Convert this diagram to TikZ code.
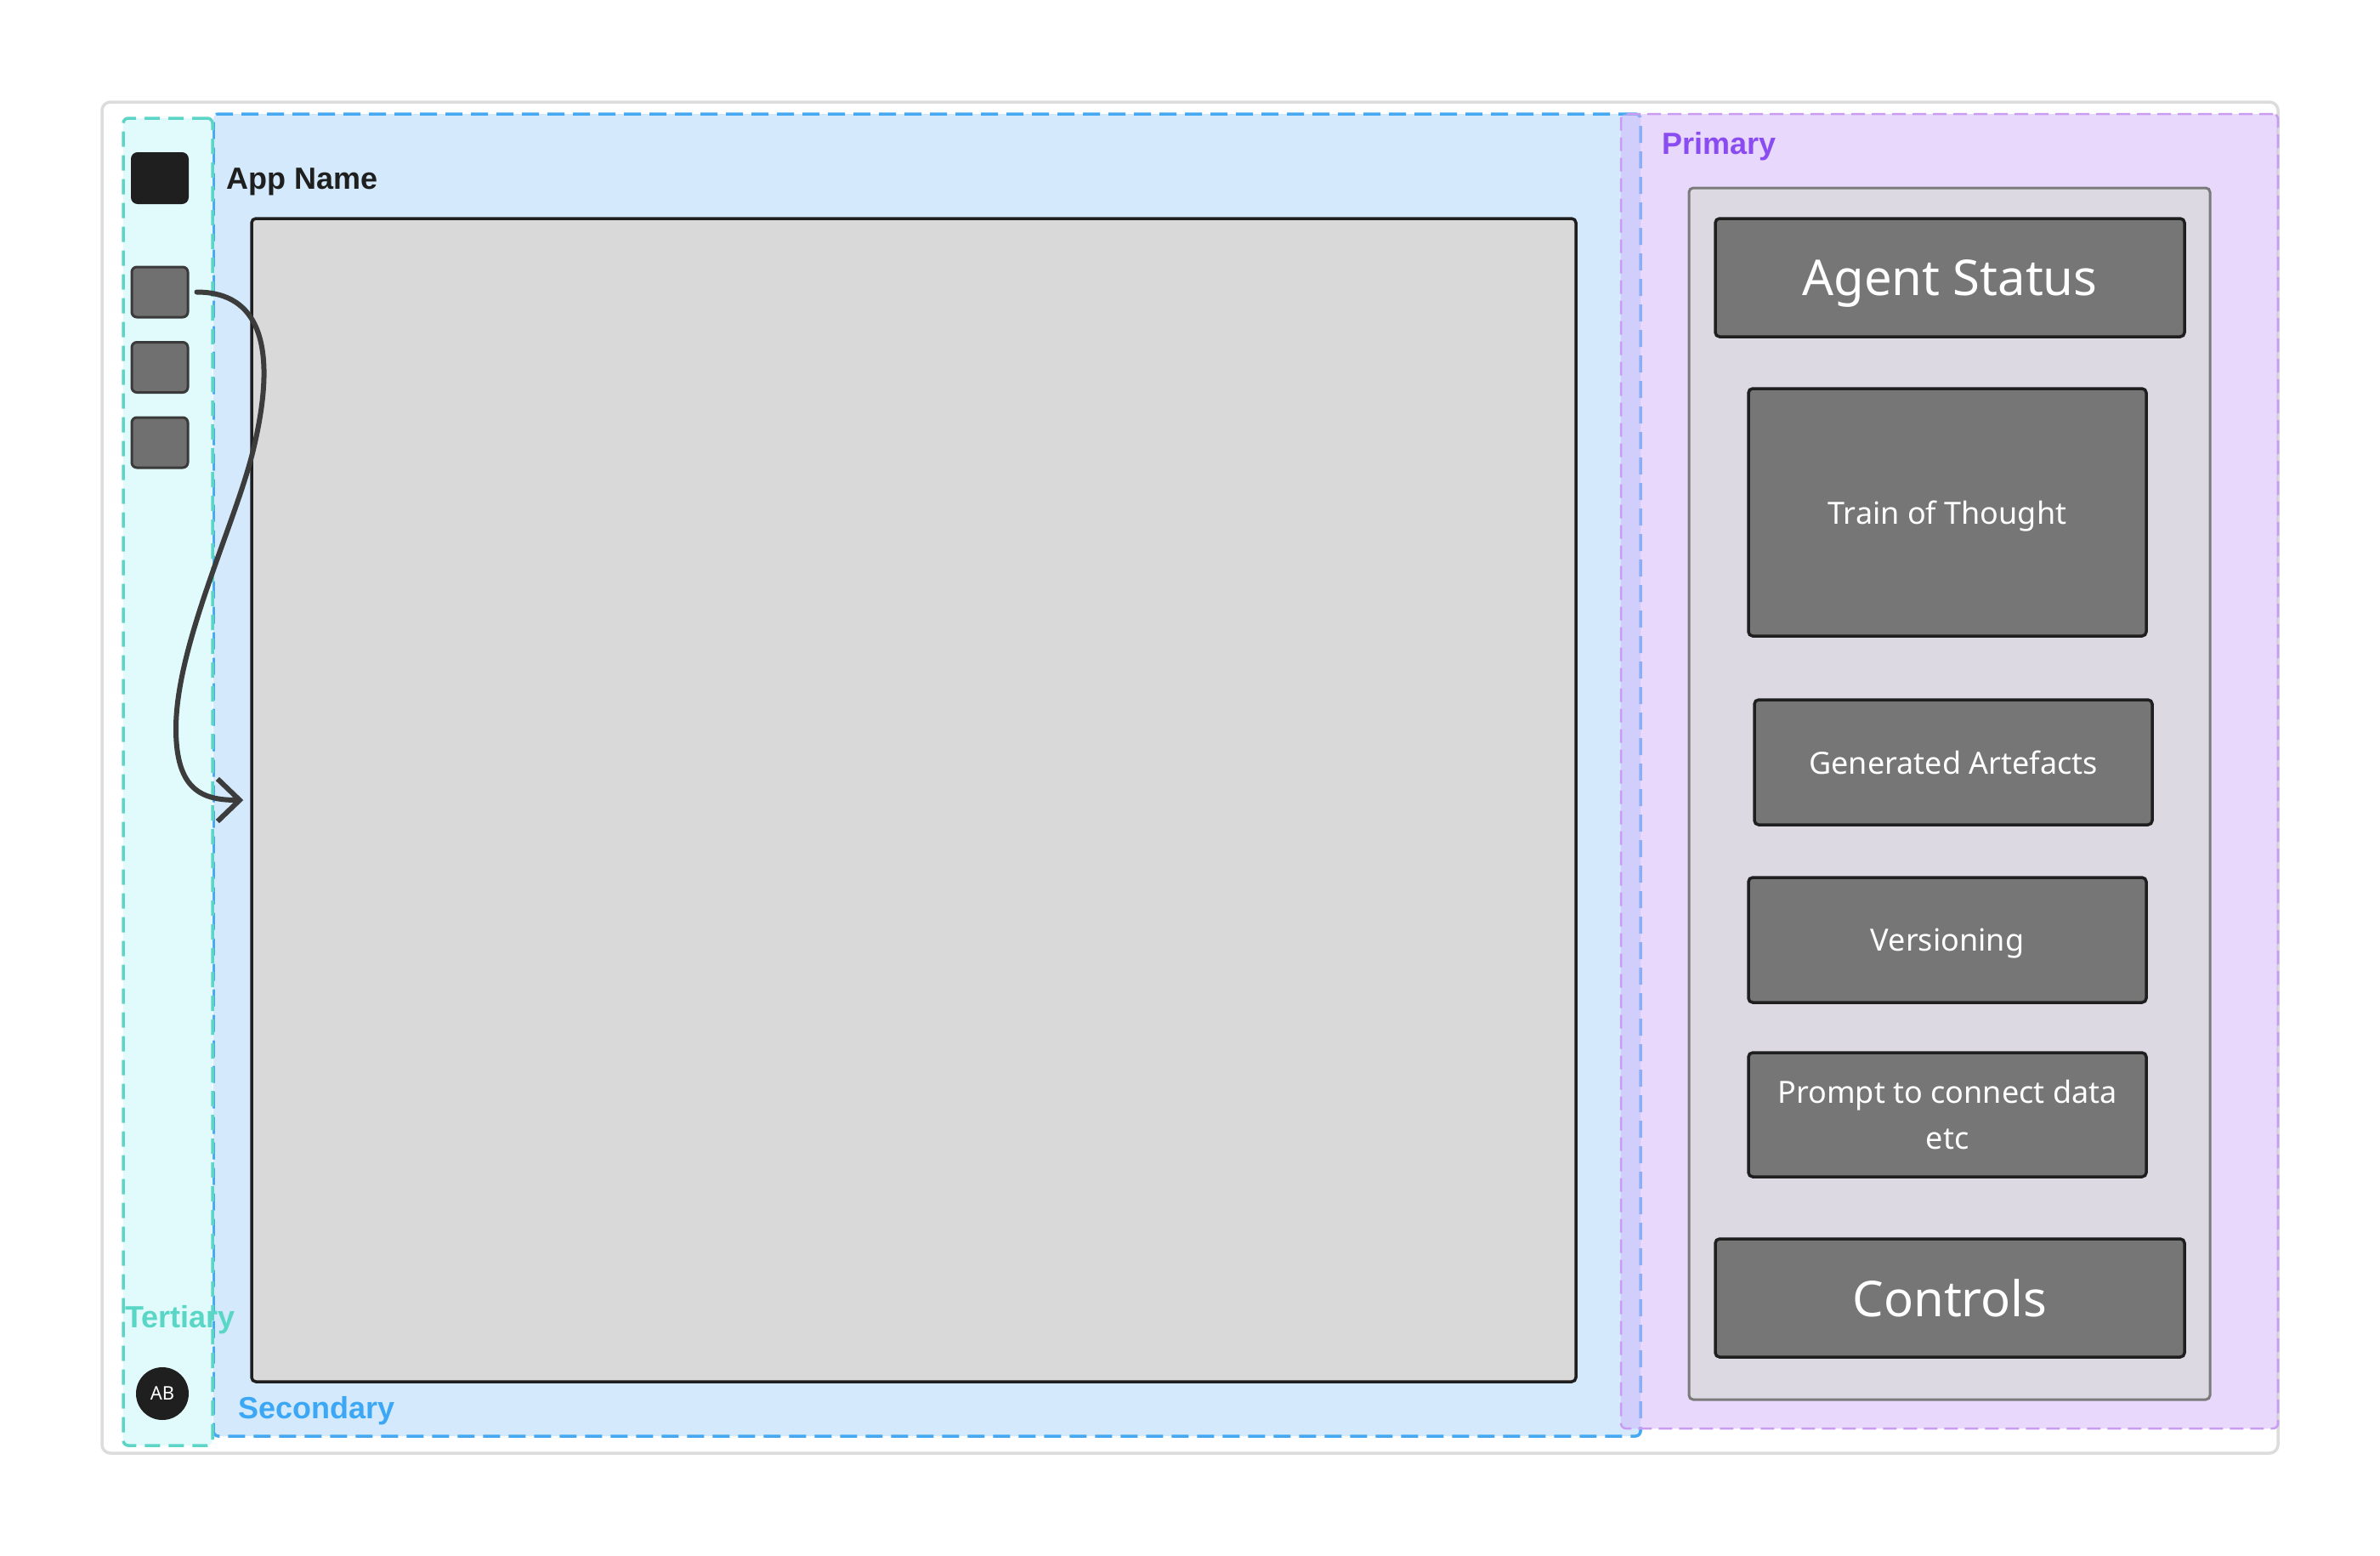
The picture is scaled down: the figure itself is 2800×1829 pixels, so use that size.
\documentclass[tikz,border=0pt]{standalone}
\usepackage{fontspec}
\setmainfont{Noto Sans}
\newfontfamily\labelfont{Liberation Sans}
\usetikzlibrary{arrows.meta}
\definecolor{frameC}{HTML}{DCDCDC}
\definecolor{tertFill}{HTML}{E1FBFC}
\definecolor{tertLine}{HTML}{5DD5C6}
\definecolor{secFill}{HTML}{D4EAFC}
\definecolor{secLine}{HTML}{45A8F0}
\definecolor{primFill}{HTML}{D2B4FB}
\definecolor{primLine}{HTML}{C99CF2}
\definecolor{primText}{HTML}{8A4CF0}
\definecolor{secText}{HTML}{3CA8F5}
\definecolor{tertText}{HTML}{5AD6C6}
\definecolor{darkC}{HTML}{1F1F1F}
\definecolor{sqFill}{HTML}{707070}
\definecolor{sqLine}{HTML}{3A3A3A}
\definecolor{mainFill}{HTML}{D9D9D9}
\definecolor{innerFill}{HTML}{DCD9E3}
\definecolor{innerLine}{HTML}{7A7A7A}
\definecolor{boxFill}{HTML}{767676}
\definecolor{arrowC}{HTML}{3C3C3C}
\tikzset{
  region/.style={draw, inner sep=0pt, outer sep=0pt, rounded corners=6pt},
  sidesq/.style={draw=sqLine, fill=sqFill, line width=3pt, rounded corners=6pt, inner sep=0pt, minimum width=66pt, minimum height=59pt},
  panelbox/.style={draw=darkC, fill=boxFill, line width=3.5pt, rounded corners=5pt, inner sep=0pt, text=white, align=center},
  oneline/.style={text depth=0pt},
  zonelabel/.style={anchor=base west, inner sep=0pt, font=\fontsize{36}{40}\selectfont\labelfont\bfseries},
  flow/.style={draw=arrowC, line width=6pt, line cap=round, -{Straight Barb[length=26pt,width=50pt,line width=6pt]}},
}
\begin{document}
\begin{tikzpicture}[x=1pt,y=-1pt]
\useasboundingbox[fill=white] (0,0) rectangle (2800,1829);
% outer frame
\node[region, draw=frameC, fill=white, line width=3.5pt, rounded corners=10pt, minimum width=2560pt, minimum height=1589pt] (outer) at (1400,914.5) {};
% secondary
\node[region, draw=secLine, fill=secFill, line width=3.5pt, dash pattern=on 20pt off 10pt, minimum width=1679pt, minimum height=1555pt] (sec) at (1090.5,911.5) {};
% tertiary
\node[region, draw=tertLine, fill=tertFill, line width=3.5pt, dash pattern=on 18pt off 10pt, minimum width=105pt, minimum height=1561pt] (tert) at (197.5,919.5) {};
% primary
\node[region, draw=primLine, fill=primFill, fill opacity=0.5, line width=2.5pt, dash pattern=on 16pt off 8pt, minimum width=773pt, minimum height=1546pt] (prim) at (2293.5,907) {};
% left sidebar items
\node[draw=darkC, fill=darkC, line width=2pt, rounded corners=7pt, inner sep=0pt, minimum width=66pt, minimum height=59pt] (logo) at (188,209.5) {};
\node[sidesq] (sq1) at (188,343.5) {};
\node[sidesq] (sq2) at (188,432) {};
\node[sidesq] (sq3) at (188,520.5) {};
\node[circle, fill=darkC, inner sep=0pt, minimum size=62pt, text=white, font=\fontsize{22}{24}\selectfont] (avatar) at (191,1639) {AB};
% main canvas
\node[draw=darkC, fill=mainFill, line width=3.5pt, rounded corners=5pt, inner sep=0pt, minimum width=1558pt, minimum height=1368pt] (main) at (1075,941) {};
% right panel
\node[draw=innerLine, fill=innerFill, line width=3pt, rounded corners=5pt, inner sep=0pt, minimum width=613pt, minimum height=1425pt] (inner) at (2293.5,933.5) {};
\node[panelbox, oneline, minimum width=552pt, minimum height=139pt, font=\fontsize{58}{64}\selectfont] (agent) at (2294,326.5) {Agent Status};
\node[panelbox, oneline, minimum width=468pt, minimum height=291pt, font=\fontsize{36}{44}\selectfont] (tot) at (2291,602.5) {Train of Thought};
\node[panelbox, oneline, minimum width=468pt, minimum height=147pt, font=\fontsize{36}{44}\selectfont] (gen) at (2298,896.5) {Generated Artefacts};
\node[panelbox, oneline, minimum width=468pt, minimum height=147pt, font=\fontsize{36}{44}\selectfont] (ver) at (2291,1105.5) {Versioning};
\node[panelbox, minimum width=468pt, minimum height=146pt, font=\fontsize{36}{54}\selectfont] (prompt) at (2291,1311) {Prompt to connect data\\etc};
\node[panelbox, oneline, minimum width=552pt, minimum height=139pt, font=\fontsize{58}{64}\selectfont] (controls) at (2294,1526.5) {Controls};
% labels
\node[zonelabel, text=darkC] (appname) at (266,222) {App Name};
\node[zonelabel, text=primText] (primlabel) at (1955,181) {Primary};
\node[zonelabel, text=tertText] (tertlabel) at (147,1561) {Tertiary};
\node[zonelabel, text=secText] (seclabel) at (280,1668) {Secondary};
% arrow
\coordinate (w1) at (297,533);
\coordinate (w2) at (207,857);
\draw[flow] ([xshift=9pt]sq1.east) .. controls +(100,0) and +(18,-73) .. (w1)
  .. controls +(-22,87) and +(0,-97) .. (w2)
  .. controls +(0,73) and +(-48,0) .. ([xshift=-8pt]main.west);
\end{tikzpicture}
\end{document}
